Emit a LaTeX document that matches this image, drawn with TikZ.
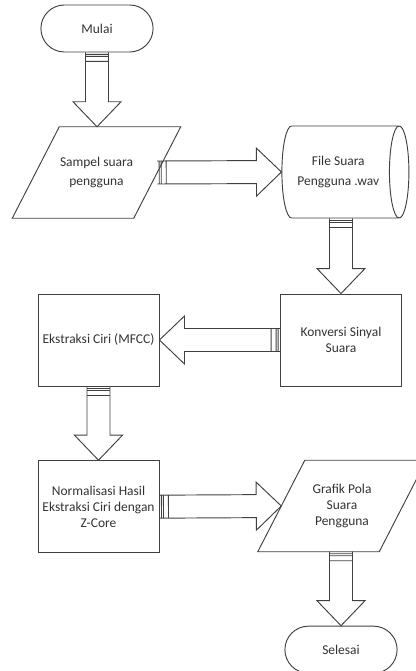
\documentclass[tikz,border=0pt]{standalone}
\usepackage{fontspec}
\setmainfont{Carlito}
\usepackage{tikz}
\usetikzlibrary{shapes}
\usetikzlibrary{calc}

\def\px{0.03cm}
\newcommand{\blockarrow}[2]{%
	\draw[flow] let \p1=(#1), \p2=(#2), \n1={veclen(\x2-\x1,\y2-\y1)}, \n2={(\x2-\x1)/\n1}, \n3={(\y2-\y1)/\n1} in
		({\x1-\n3*11.5*\px},{\y1+\n2*11.5*\px})
		-- ({\x2-\n2*25*\px-\n3*11.5*\px},{\y2-\n3*25*\px+\n2*11.5*\px})
		-- ({\x2-\n2*25*\px-\n3*24*\px},{\y2-\n3*25*\px+\n2*24*\px})
		-- (\p2)
		-- ({\x2-\n2*25*\px+\n3*24*\px},{\y2-\n3*25*\px-\n2*24*\px})
		-- ({\x2-\n2*25*\px+\n3*11.5*\px},{\y2-\n3*25*\px-\n2*11.5*\px})
		-- ({\x1+\n3*11.5*\px},{\y1-\n2*11.5*\px})
		foreach \o in {2,4,9} {
			({\x1-\n3*11.5*\px+\n2*\o*\px},{\y1+\n2*11.5*\px+\n3*\o*\px}) -- ({\x1+\n3*11.5*\px+\n2*\o*\px},{\y1-\n2*11.5*\px+\n3*\o*\px})
		};
}
\newcommand{\slantbox}[1]{%
	\draw[flow] ($(#1.south west)+(-23.5*\px,0)$) -- ($(#1.south east)+(-23.5*\px,0)$) -- ($(#1.north east)+(23.5*\px,0)$) -- ($(#1.north west)+(23.5*\px,0)$) -- cycle;
}

\begin{document}
\begin{tikzpicture}[
	every node/.style={text=black!80, font=\fontsize{11.5}{13.6}\selectfont, align=center},
	line/.style={draw=black!75, line width=0.8pt},
	flow/.style={line, line join=miter},
	terminal/.style={rounded rectangle, line, minimum width=3.6cm, minimum height=1.41cm},
	process/.style={rectangle, line, minimum width=3.63cm, minimum height=2.76cm},
	io/.style={rectangle, minimum width=3.63cm, minimum height=2.73cm},
	storage/.style={cylinder, line, aspect=0.5, minimum width=2.76cm, minimum height=3.81cm}
]
	\clip (0,0) rectangle (12.48,-20.13);

	\node[terminal] (mulai) at (2.91,-0.855) {Mulai};
	\node[io] (sampel) at (2.895,-5.175) {Sampel suara\\[3pt]pengguna};
	\slantbox{sampel}
	\node[storage] (file) at (10.15,-5.16) {File Suara\\[3pt]Pengguna .wav};
	\node[process] (konversi) at (10.23,-10.2) {Konversi Sinyal\\Suara};
	\node[process] (ekstraksi) at (2.955,-10.2) {Ekstraksi Ciri (MFCC)};
	\node[process] (normalisasi) at (2.955,-15.2) {Normalisasi Hasil\\Ekstraksi Ciri dengan\\Z-Core};
	\node[io] (grafik) at (10.26,-15.18) {Grafik Pola\\Suara\\Pengguna};
	\slantbox{grafik}
	\node[terminal] (selesai) at (10.23,-19.49) {Selesai};

	\blockarrow{mulai.south}{mulai.south |- sampel.north}
	\blockarrow{sampel.east}{file.west}
	\blockarrow{file.south -| konversi.north}{konversi.north}
	\blockarrow{konversi.west}{ekstraksi.east}
	\blockarrow{ekstraksi.south}{normalisasi.north}
	\blockarrow{normalisasi.east}{grafik.west}
	\blockarrow{grafik.south -| selesai.north}{selesai.north}
\end{tikzpicture}
\end{document}
